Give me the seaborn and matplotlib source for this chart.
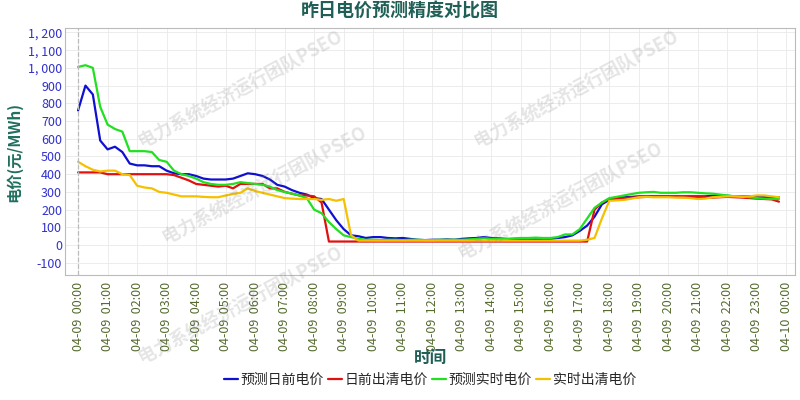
import numpy as np
import matplotlib
matplotlib.use('Agg')
import matplotlib.pyplot as plt
import seaborn as sns
from matplotlib.ticker import FuncFormatter

# 15-minute points, 00:00 .. 23:45
pred_da = [760, 900, 850, 590, 540, 555, 525, 460, 450, 450, 445, 445,
           420, 405, 400, 400, 390, 375, 370, 370, 370, 375, 390, 405,
           400, 390, 370, 340, 330, 310, 295, 285, 265, 260, 200, 140,
           90, 55, 50, 40, 45, 45, 40, 38, 40, 35, 30, 28,
           30, 30, 32, 30, 35, 38, 40, 45, 40, 38, 35, 30,
           28, 30, 32, 30, 35, 40, 45, 55, 80, 110, 160, 230,
           255, 265, 270, 272, 275, 275, 275, 275, 275, 275, 275, 275,
           275, 275, 278, 278, 278, 275, 275, 275, 272, 270, 270, 270]
clear_da = [410, 410, 410, 410, 400, 400, 400, 400, 400, 400, 400, 400,
            400, 395, 380, 365, 345, 340, 335, 330, 335, 320, 345, 345,
            345, 345, 320, 320, 300, 290, 280, 280, 275, 240, 20, 20,
            20, 20, 20, 20, 20, 20, 20, 20, 20, 20, 20, 20,
            20, 20, 20, 20, 20, 20, 20, 20, 20, 20, 20, 20,
            20, 20, 20, 20, 20, 20, 20, 20, 20, 20, 200, 240,
            260, 262, 265, 268, 270, 272, 272, 272, 272, 272, 270, 272,
            272, 270, 268, 270, 272, 270, 268, 265, 262, 260, 258, 245]
pred_rt = [1005, 1015, 1000, 780, 680, 655, 640, 530, 530, 530, 525, 480,
           470, 420, 400, 390, 375, 355, 345, 340, 340, 345, 355, 350,
           345, 340, 330, 310, 300, 290, 280, 265, 200, 180, 130, 90,
           55, 45, 35, 30, 30, 28, 30, 30, 28, 30, 30, 28,
           28, 30, 30, 30, 30, 32, 35, 38, 35, 35, 35, 38,
           40, 40, 42, 40, 40, 45, 60, 60, 90, 150, 210, 240,
           265, 272, 280, 288, 295, 298, 300, 295, 295, 295, 298, 298,
           295, 292, 290, 285, 280, 275, 275, 270, 265, 262, 260, 260]
clear_rt = [470, 445, 425, 415, 420, 420, 400, 395, 335, 325, 320, 300,
            295, 285, 275, 275, 275, 272, 270, 270, 280, 288, 295, 320,
            305, 295, 285, 275, 265, 262, 260, 260, 260, 255, 260, 250,
            260, 55, 25, 25, 25, 25, 25, 25, 25, 25, 25, 25,
            25, 25, 25, 25, 25, 25, 25, 25, 25, 25, 25, 25,
            25, 25, 25, 25, 25, 25, 25, 25, 25, 30, 40, 150,
            250, 252, 255, 262, 270, 272, 270, 270, 270, 268, 268, 265,
            260, 262, 270, 272, 275, 275, 272, 275, 280, 280, 275, 270]
hours = np.arange(96) / 4
tick_hours = list(range(25))
tick_labels = [f"04-09  {h:02d}:00" for h in range(24)] + ["04-10  00:00"]

sns.set_style('whitegrid')
plt.rcParams['font.family'] = ['Noto Sans CJK SC', 'DejaVu Sans']
plt.rcParams['axes.unicode_minus'] = False

fig = plt.figure(figsize=(8, 4), dpi=100)
ax = fig.add_axes([0.081, 0.312, 0.913, 0.618])

series = [('预测日前电价', pred_da, '#1010d0'), ('日前出清电价', clear_da, '#e01010'),
          ('预测实时电价', pred_rt, '#20e020'), ('实时出清电价', clear_rt, '#f5c000')]
for name, vals, c in series:
    sns.lineplot(x=hours, y=vals, ax=ax, color=c, linewidth=1.6, label=name)

ax.axvline(0, color='#bbbbbb', linestyle='--', linewidth=0.9)
ax.set_xlim(-0.45, 24.3)
ax.set_ylim(-170, 1225)
ax.set_yticks(range(-100, 1201, 100))
ax.yaxis.set_major_formatter(FuncFormatter(lambda v, p: f"{int(v):,}".replace(',', ', ')))
ax.set_xticks(tick_hours)
ax.set_xticklabels(tick_labels, rotation=90, fontsize=9, color='#556b2f')
ax.tick_params(axis='y', labelsize=9, labelcolor='#3030d0', length=0, pad=2)
ax.tick_params(axis='x', length=3, pad=2)
ax.grid(color='#ececec', linewidth=0.7)
for s in ax.spines.values():
    s.set_color('#bbbbbb')
ax.set_xlabel('时间', fontsize=12, fontweight='bold', color='#1f5f55', labelpad=-2)
ax.set_ylabel('电价(元/MWh)', fontsize=11, fontweight='bold', color='#1f6f5f', labelpad=4)
fig.suptitle('昨日电价预测精度对比图', fontsize=13, fontweight='bold', color='#1f5f55', y=0.995)

ax.legend(loc='upper center', bbox_to_anchor=(0.5, -0.345), ncol=4, frameon=False,
          fontsize=10, handlelength=1.0, handletextpad=0.2, columnspacing=0.3)

# watermark
for (wx, wy) in [(0.30, 0.78), (0.72, 0.78), (0.33, 0.54), (0.70, 0.50), (0.30, 0.24)]:
    fig.text(wx, wy, '电力系统经济运行团队PSEO', fontsize=13, fontweight='bold', color='#888888',
             alpha=0.22, rotation=28, ha='center', va='center')

fig.savefig('out.png', dpi=100)
